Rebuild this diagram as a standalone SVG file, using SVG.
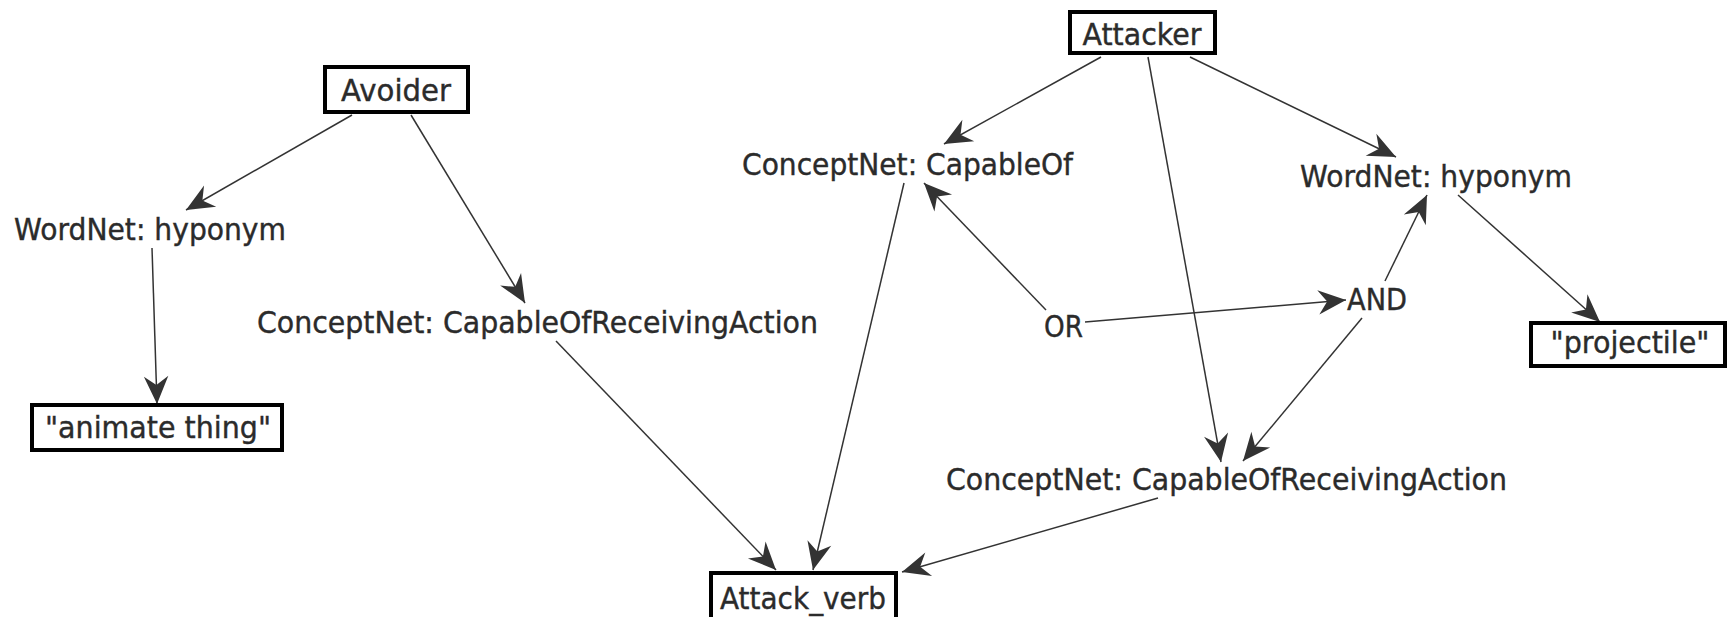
<svg xmlns="http://www.w3.org/2000/svg" width="1727" height="617" viewBox="0 0 1727 617">
<style>
text{font-family:"DejaVu Sans","Liberation Sans",sans-serif;font-size:30px;fill:#2b2b2b;stroke:#2b2b2b;stroke-width:0.4;}
.box{fill:#fff;stroke:#000;stroke-width:4;}
.edge{stroke:#333;stroke-width:1.5;fill:none;marker-end:url(#ah);}
.c{text-anchor:middle;}
</style>
<defs>
<marker id="ah" markerUnits="userSpaceOnUse" orient="auto" refX="0" refY="0" markerWidth="30" markerHeight="30" viewBox="-26 -13 27 26" overflow="visible">
<path d="M0,0 L-25,-11 L-17,0 L-25,11 Z" fill="#333"/>
</marker>
</defs>
<rect width="1727" height="617" fill="#fff"/>
<g id="connectors">
<line class="edge" x1="352" y1="115" x2="186" y2="210"/>
<line class="edge" x1="411" y1="115" x2="525" y2="303"/>
<line class="edge" x1="152" y1="248" x2="157" y2="404"/>
<line class="edge" x1="556" y1="341" x2="776" y2="570"/>
<line class="edge" x1="1101" y1="57" x2="944" y2="144"/>
<line class="edge" x1="1148" y1="57" x2="1221" y2="462"/>
<line class="edge" x1="1190" y1="57" x2="1396" y2="157"/>
<line class="edge" x1="904" y1="183" x2="813" y2="570"/>
<line class="edge" x1="1046" y1="310" x2="924" y2="183"/>
<line class="edge" x1="1085" y1="322" x2="1346" y2="300"/>
<line class="edge" x1="1385" y1="281" x2="1427" y2="195"/>
<line class="edge" x1="1362" y1="318" x2="1243" y2="461"/>
<line class="edge" x1="1458" y1="195" x2="1600" y2="322"/>
<line class="edge" x1="1158" y1="498" x2="902" y2="572"/>
</g>
<g id="avoider">
<rect class="box" x="325" y="67" width="143" height="45"/>
<text class="c" x="396" y="101" textLength="110" lengthAdjust="spacingAndGlyphs">Avoider</text>
</g>
<g id="attacker">
<rect class="box" x="1070" y="12" width="145" height="41"/>
<text class="c" x="1142" y="45" textLength="119" lengthAdjust="spacingAndGlyphs">Attacker</text>
</g>
<g id="animate-thing">
<rect class="box" x="32" y="405" width="250" height="45"/>
<text class="c" x="158" y="438" textLength="226" lengthAdjust="spacingAndGlyphs">"animate thing"</text>
</g>
<g id="projectile">
<rect class="box" x="1531" y="323" width="194" height="43"/>
<text class="c" x="1630" y="353" textLength="159" lengthAdjust="spacingAndGlyphs">"projectile"</text>
</g>
<g id="attack-verb">
<rect class="box" x="711" y="573" width="185" height="50"/>
<text class="c" x="803" y="609" textLength="166" lengthAdjust="spacingAndGlyphs">Attack_verb</text>
</g>
<g id="wordnet-hyponym-left">
<text x="14" y="240" textLength="272" lengthAdjust="spacingAndGlyphs">WordNet: hyponym</text>
</g>
<g id="conceptnet-cora-left">
<text x="257" y="333" textLength="561" lengthAdjust="spacingAndGlyphs">ConceptNet: CapableOfReceivingAction</text>
</g>
<g id="conceptnet-capableof">
<text x="742" y="175" textLength="331" lengthAdjust="spacingAndGlyphs">ConceptNet: CapableOf</text>
</g>
<g id="wordnet-hyponym-right">
<text x="1300" y="187" textLength="272" lengthAdjust="spacingAndGlyphs">WordNet: hyponym</text>
</g>
<g id="or">
<text x="1044" y="337" textLength="39" lengthAdjust="spacingAndGlyphs">OR</text>
</g>
<g id="and">
<text x="1347" y="310" textLength="60" lengthAdjust="spacingAndGlyphs">AND</text>
</g>
<g id="conceptnet-cora-right">
<text x="946" y="490" textLength="561" lengthAdjust="spacingAndGlyphs">ConceptNet: CapableOfReceivingAction</text>
</g>
</svg>
